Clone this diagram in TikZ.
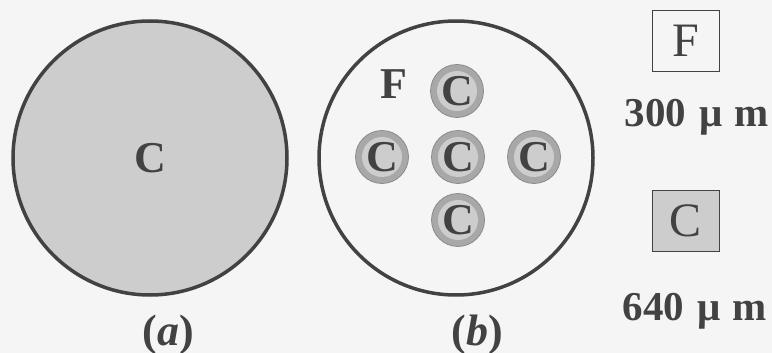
\documentclass[tikz,border=0pt]{standalone}
\usepackage{fontspec}
\setmainfont{Liberation Serif}

\definecolor{paper}{HTML}{F5F5F5}
\definecolor{rim}{HTML}{424242}
\definecolor{core}{HTML}{CDCDCD}
\definecolor{clad}{HTML}{A8A8A8}

\tikzset{
  bigdisk/.style={circle, draw=rim, line width=3.5pt, minimum size=274pt, inner sep=0pt},
  fiber/.style={circle, fill=clad, draw=clad!80!black, line width=0.7pt,
    minimum size=53pt, inner sep=0pt,
    path picture={\fill[core] (path picture bounding box.center) circle (20pt);}},
  keybox/.style={draw=rim, line width=0.8pt, minimum width=67pt, minimum height=61pt,
    inner sep=0pt, font=\fontsize{48}{48}\selectfont},
  size/.style={anchor=base west, font=\fontsize{41}{41}\selectfont\bfseries}
}

\begin{document}
\begin{tikzpicture}[x=1pt, y=-1pt, every node/.style={font=\fontsize{44}{44}\selectfont\bfseries, text=rim}]
    \fill[paper] (0,0) rectangle (772,353);
    \useasboundingbox (0,0) rectangle (772,353);

    % (a) one large core
    \node[bigdisk, fill=core] (diskA) at (150,158) {C};
    \node[anchor=base] (capA) at (168,345) {(\textit{a})};

    % (b) five small cores in a large fibre
    \node[bigdisk] (diskB) at (456,158) {};
    \foreach \name/\x/\y in {top/457/91, left/382/157, mid/458/157, right/534/157, bot/458/220} {
        \node[fiber] (core-\name) at (\x,\y) {C};
    }
    \node[anchor=base] (fibF) at (393.5,99) {F};
    \node[anchor=base] (capB) at (477,345) {(\textit{b})};

    % legend
    \node[keybox, fill=paper] (keyF) at (685.5,40.5) {F};
    \node[size] (sizeF) at (621,127) {300\hspace{13pt}μ\hspace{12pt}m};
    \node[keybox, fill=core] (keyC) at (685.5,221) {C};
    \node[size] (sizeC) at (619,320) {640\hspace{13pt}μ\hspace{12pt}m};
\end{tikzpicture}
\end{document}
